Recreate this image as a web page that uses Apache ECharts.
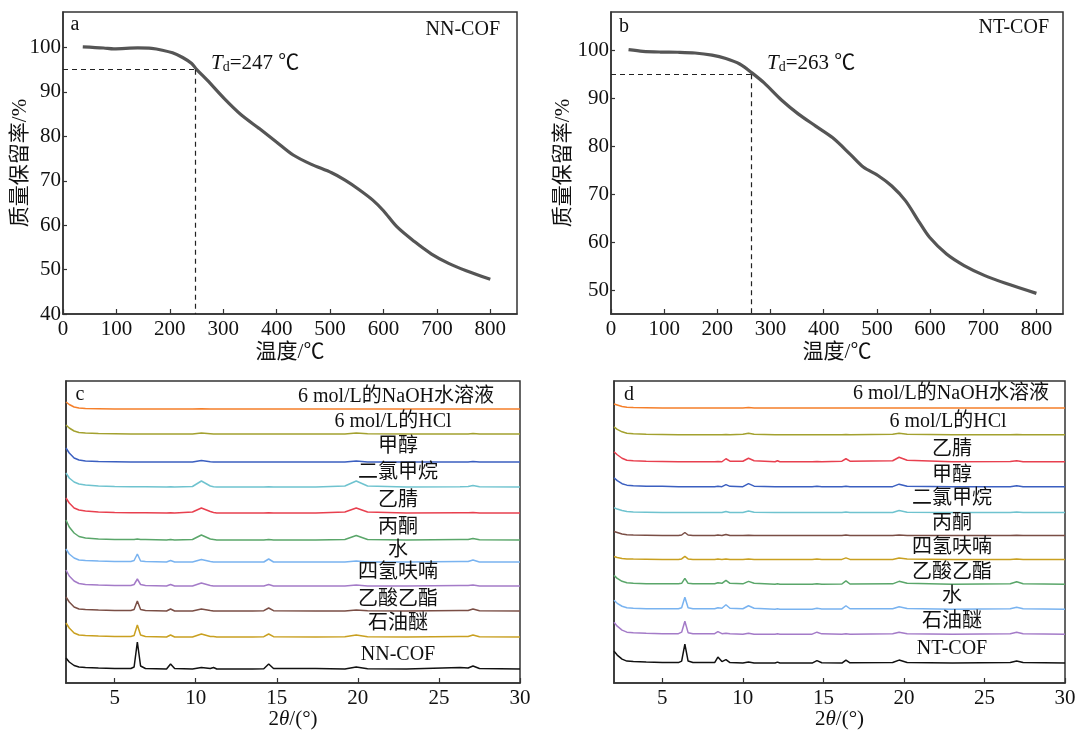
<!DOCTYPE html>
<html>
<head>
<meta charset="utf-8">
<script src="https://cdn.jsdelivr.net/npm/echarts@6/dist/echarts.min.js"></script>
<style>
  html, body { margin: 0; padding: 0; background: #fff; }
  #chart { width: 1083px; height: 731px; }
</style>
</head>
<body>
<div id="chart"></div>
<script>
// ---- TGA data (panel a: NN-COF, panel b: NT-COF) ----
const tempA = [37, 76, 95, 140, 166, 186, 205, 224, 241, 250, 270, 302, 334, 367, 399, 431, 464, 503, 528, 554, 580, 600, 625, 658, 690, 722, 755, 800]
const massA = [100.15, 99.9, 99.7, 99.9, 99.8, 99.4, 98.8, 97.75, 96.4, 95.1, 92.65, 88.5, 84.8, 81.8, 78.8, 75.8, 73.75, 71.8, 70.15, 68.05, 65.65, 63.25, 59.65, 56.3, 53.5, 51.4, 49.75, 47.8]
const tempB = [33, 60, 93, 125, 158, 190, 216, 242, 265, 288, 320, 352, 385, 417, 450, 475, 502, 528, 554, 580, 599, 631, 664, 703, 742, 800]
const massB = [100.15, 99.8, 99.65, 99.6, 99.45, 99.0, 98.3, 97.15, 95.3, 93.2, 89.7, 86.75, 84.2, 81.75, 78.3, 75.6, 73.9, 71.7, 68.6, 64.1, 61.0, 57.5, 55.1, 53.0, 51.4, 49.3]
const tdA = 247, tdB = 263, tdLevel = 95
const ticksA = [40, 50, 60, 70, 80, 90, 100]
const ticksB = [50, 60, 70, 80, 90, 100]
const ticksT = [0, 100, 200, 300, 400, 500, 600, 700, 800]

// ---- XRD data (panel c: NN-COF, panel d: NT-COF), intensity above each stacked baseline ----
const namesC = ['6 mol/L的NaOH水溶液', '6 mol/L的HCl', '甲醇', '二氯甲烷', '乙腈', '丙酮', '水', '四氢呋喃', '乙酸乙酯', '石油醚', 'NN-COF']
const baseC = [274, 249, 221, 196, 170, 143, 121, 97, 72, 46, 14]
const xC = [2, 2.2, 2.5, 2.8, 3.2, 4, 5, 6, 6.2, 6.4, 6.6, 6.9, 8.2, 8.45, 8.7, 9.8, 10.35, 10.9, 11.1, 11.3, 13.5, 14.2, 14.5, 14.8, 17.4, 19.2, 19.9, 20.6, 23, 26.3, 26.8, 27.1, 27.5, 30]
const yC = [
  [7, 4.5, 2, 1, 0.5, 0.3, 0, 0, 0, 0, 0, 0, 0, 0, 0, 0, 0.3, 0, 0, 0, 0, 0, 0, 0, 0, 0, 0, 0, 0, 0, 0, 0, 0, 0],
  [9, 6, 3, 1.5, 1, 0.5, 0.3, 0, 0, 0, 0, 0, 0, 0, 0, 0, 1, 0.3, 0, 0, 0, 0, 0, 0, 0, 0, 1, 0.3, 0, 0, 0, 0.5, 0, 0],
  [14, 9, 4, 2, 1, 0.5, 0.3, 0, 0, 0, 0, 0, 0, 0, 0, 0, 1.5, 0.3, 0, 0, 0, 0, 0, 0, 0, 0, 1, 0, 0, 0, 0, 0.5, 0, 0],
  [14, 9, 5, 3, 2, 1, 0.5, 0.3, 0.3, 0.3, 0.3, 0.3, 0, 0.3, 0, 0.5, 6, 1, 0.3, 0, 0, 0, 0.3, 0, 0, 1, 6, 1, 0, 0.3, 0.5, 1.5, 0.3, 0],
  [15, 10, 5, 3, 2, 1, 0.5, 0.3, 0.3, 0.3, 0.3, 0.3, 0, 0.3, 0, 1, 5, 1.5, 0.5, 0, 0, 0, 0.3, 0, 0, 1, 5, 1, 0, 0.3, 0.3, 0.5, 0, 0],
  [20, 13, 7, 3.5, 2, 1, 0.5, 0.5, 0.5, 1, 0.5, 0.5, 0, 0.5, 0, 0.5, 5, 1, 0.5, 0, 0, 0, 0.5, 0, 0, 0.5, 4.5, 0.5, 0, 0.5, 0.5, 1.5, 0.3, 0],
  [13, 8, 4, 2, 1.5, 1, 0.5, 0.5, 1.5, 8, 1, 0.5, 0, 1.5, 0, 0, 2.5, 0.5, 0, 0, 0, 0, 3, 0, 0, 0, 1, 0, 0, 0.5, 0.5, 2, 0, 0],
  [16, 10, 5, 2.5, 1.5, 1, 0.5, 0.5, 1.5, 7, 1.5, 0.5, 0, 1.5, 0, 0, 3, 0.5, 0, 0, 0, 0, 1.5, 0, 0, 0, 1, 0, 0, 0.5, 0.5, 1, 0, 0],
  [14, 9, 4, 2, 1.5, 1, 0.5, 0.5, 1.5, 10, 1.5, 0.5, 0, 2, 0, 0, 2, 0.5, 0, 0, 0, 0.3, 3, 0.3, 0, 0, 1, 0.3, 0, 0.5, 0.5, 2, 0.3, 0],
  [14, 9, 4, 2, 1.5, 1, 0.5, 0.5, 1.5, 12, 2, 0.5, 0, 2, 0, 0, 3, 0.5, 0.5, 0, 0, 0.3, 3, 0.3, 0, 0.3, 2, 0.3, 0, 0.5, 0.5, 2, 0.3, 0],
  [11, 7, 3.5, 2, 1.5, 1, 0.5, 0.5, 2, 27, 3, 0.5, 0, 5, 0.5, 0, 1.5, 0.5, 1.5, 0, 0, 0.3, 5, 0.5, 0.5, 0, 2, 0.3, 0, 1.5, 1, 3, 0.5, 0]
]
const colorsC = ['#f57f2a', '#a3a12f', '#3b5fc0', '#6fc3cf', '#e8404f', '#5aa66a', '#79b3f0', '#a47bc8', '#7a4e45', '#c9a020', '#111111']

const namesD = ['6 mol/L的NaOH水溶液', '6 mol/L的HCl', '乙腈', '甲醇', '二氯甲烷', '丙酮', '四氢呋喃', '乙酸乙酯', '水', '石油醚', 'NT-COF']
const baseD = [276, 249, 222, 197, 171, 148, 124, 99, 74, 49, 20]
const xD = [2, 2.2, 2.5, 2.8, 3.2, 4, 5, 6, 6.2, 6.4, 6.6, 6.9, 8.25, 8.45, 8.7, 8.95, 9.2, 10.0, 10.35, 10.7, 12.0, 12.15, 12.3, 14.3, 14.6, 14.9, 16.15, 16.4, 16.65, 19.3, 19.7, 20.2, 23, 26.6, 27.0, 27.4, 30]
const yD = [
  [4, 3, 1.5, 0.7, 0.3, 0.2, 0, 0, 0, 0, 0, 0, 0, 0, 0, 0, 0, 0, 0.3, 0, 0, 0, 0, 0, 0, 0, 0, 0, 0, 0, 0, 0, 0, 0, 0, 0, 0],
  [8, 5.5, 3, 1.5, 1, 0.5, 0.3, 0, 0, 0, 0, 0, 0, 0, 0, 0.3, 0, 0.5, 1.5, 0.5, 0, 0, 0, 0, 0, 0, 0, 0.3, 0, 0.5, 1.5, 0.5, 0, 0, 0.3, 0, 0],
  [10, 7, 3.5, 1.5, 1, 0.5, 0.3, 0, 0, 0, 0, 0, 0, 0.3, 0, 3, 0.5, 0.5, 3.5, 1, 0, 1, 0, 0, 0.3, 0, 0.5, 3, 0.5, 1, 4.5, 1.5, 0, 0.3, 1, 0, 0],
  [9, 6, 3, 1.5, 1, 0.5, 0.3, 0, 0, 0, 0, 0, 0, 0.3, 0, 2, 0.3, 0, 3, 0.5, 0, 0, 0, 0, 0.3, 0, 0, 0.5, 0, 0, 2.5, 0.5, 0, 0, 1, 0, 0],
  [5, 3.5, 2, 1, 0.5, 0.3, 0, 0, 0, 0, 0, 0, 0, 0, 0, 1, 0, 0, 1.5, 0.3, 0, 0, 0, 0, 0, 0, 0, 0.5, 0, 0, 2, 0.3, 0, 0, 0.5, 0, 0],
  [4, 3, 1.5, 0.8, 0.5, 0.3, 0, 0, 0.5, 3, 0.5, 0, 0, 0.5, 0, 1, 0, 0, 0.3, 0, 0, 0, 0, 0, 0, 0, 0, 0.5, 0, 0, 0.5, 0, 0, 0, 0.3, 0, 0],
  [3, 2, 1, 0.5, 0.3, 0.2, 0, 0, 0.5, 3, 0.5, 0, 0, 0.3, 0, 0.5, 0, 0, 0.3, 0, 0, 0, 0, 0, 0.3, 0, 0, 1.5, 0, 0, 1.5, 0.3, 0, 0, 0.5, 0, 0],
  [9, 6, 3, 1.5, 1, 0.5, 0.5, 0.5, 1, 6, 1, 0.5, 0.5, 1.5, 1, 4, 1, 0.5, 3, 1, 0, 0.5, 0, 0, 0.5, 0, 0.3, 3.5, 0.3, 0.5, 3, 1, 0, 0.5, 2.5, 0.5, 0],
  [9, 6, 3, 1.5, 1, 0.5, 0.5, 0.5, 1.5, 12, 1.5, 0.5, 0.5, 1.5, 1, 4.5, 1, 0.5, 3.5, 1, 0, 0.5, 0, 0, 1, 0.3, 0.3, 3.5, 0.5, 0.5, 2.5, 0.8, 0, 0.5, 2, 0.5, 0],
  [12, 8, 4, 2, 1.5, 1, 0.5, 0.5, 2, 13, 1.5, 0.5, 0.5, 2.5, 0.5, 1, 0.3, 0, 1, 0, 0, 0.3, 0, 0, 2, 0.3, 0, 0.5, 0, 0.5, 2, 0.5, 0, 0.5, 2, 0.5, 0],
  [12, 8, 4, 2, 1.5, 1, 0.5, 0.5, 2, 19, 2, 0.5, 0.5, 6, 1.5, 3.5, 0.5, 0, 1, 0, 0, 1, 0, 0, 2.5, 0.3, 0, 3, 0.3, 0.5, 3, 0.5, 0, 0.5, 2, 0.5, 0]
]
const colorsD = ['#f57f2a', '#a3a12f', '#e8404f', '#3b5fc0', '#6fc3cf', '#7a4e45', '#c9a020', '#5aa66a', '#79b3f0', '#a47bc8', '#111111']
const ticks2t = [5, 10, 15, 20, 25, 30]

// label placement (pixels)
const labelYC = [397, 422, 447, 473, 501, 528, 551, 573, 600, 624, 655]
const labelXC = [396, 393, 398, 398, 398, 398, 398, 398, 398, 398, 398]
const labelYD = [394, 422, 450, 476, 499, 524, 548, 573, 597, 622, 649]
const labelXD = [951, 948, 952, 952, 952, 952, 952, 952, 952, 952, 952]

const FONT = '"Liberation Serif", "Noto Sans CJK SC", serif'
const NUM = 21
const axisColor = '#333'
const chart = echarts.init(document.getElementById('chart'))

function valueX(grid, min, max, ticks, name, nameGap) {
  return {
    type: 'value', gridIndex: grid, min, max,
    name, nameLocation: 'middle', nameGap, nameMoveOverlap: false,
    nameTextStyle: { fontFamily: FONT, fontSize: 21, color: '#111', rich: { i: { fontStyle: 'italic', fontFamily: FONT, fontSize: 21 } } },
    axisLine: { show: true, lineStyle: { color: axisColor, width: 1.5 } },
    axisTick: { show: true, inside: true, length: 5, customValues: ticks, lineStyle: { color: axisColor, width: 1.2 } },
    axisLabel: { customValues: ticks, color: '#111', fontFamily: FONT, fontSize: NUM, margin: 5 },
    splitLine: { show: false }
  }
}

const grids = [
  { left: 63, right: 566, top: 12, bottom: 417 },
  { left: 611, right: 20, top: 12, bottom: 417 },
  { left: 66, right: 563, top: 381, bottom: 48 },
  { left: 614, right: 18, top: 381, bottom: 47 }
].map(g => Object.assign({ show: true, borderColor: axisColor, borderWidth: 1.5, backgroundColor: 'transparent' }, g))

const xAxes = [
  valueX(0, 0, 850, ticksT, '温度/℃', 28),
  valueX(1, 0, 850, ticksT, '温度/℃', 28),
  valueX(2, 2, 30, ticks2t, '2{i|θ}/(°)', 26),
  valueX(3, 2, 30, ticks2t, '2{i|θ}/(°)', 26)
]

function tgaY(grid, min, ticks, nameGap) {
  return {
    type: 'value', gridIndex: grid, min, max: 108,
    name: '质量保留率/%', nameLocation: 'middle', nameGap, nameMoveOverlap: false,
    nameTextStyle: { fontFamily: FONT, fontSize: 21, color: '#111' },
    axisLine: { show: true, lineStyle: { color: axisColor, width: 1.5 } },
    axisTick: { show: true, inside: true, length: 4, customValues: ticks, lineStyle: { color: axisColor, width: 1.2 } },
    axisLabel: { customValues: ticks, color: '#111', fontFamily: FONT, fontSize: NUM, margin: 2 },
    splitLine: { show: false }
  }
}
function xrdY(grid, max) {
  return {
    type: 'value', gridIndex: grid, min: 0, max,
    axisLine: { show: true, lineStyle: { color: axisColor, width: 1.5 } },
    axisTick: { show: false }, axisLabel: { show: false }, splitLine: { show: false }
  }
}
const yAxes = [tgaY(0, 40, ticksA, 32), tgaY(1, 45, ticksB, 37), xrdY(2, 302), xrdY(3, 303)]

function tdMark(td, bottom) {
  return {
    silent: true, symbol: 'none', label: { show: false },
    lineStyle: { type: [5, 4], color: '#222', width: 1.2 },
    data: [
      [{ coord: [0, tdLevel] }, { coord: [td, tdLevel] }],
      [{ coord: [td, tdLevel] }, { coord: [td, bottom] }]
    ]
  }
}

const series = [
  { type: 'line', xAxisIndex: 0, yAxisIndex: 0, data: tempA.map((t, i) => [t, massA[i]]), showSymbol: false, smooth: 0.3,
    lineStyle: { color: '#555', width: 3.2 }, markLine: tdMark(tdA, 40), z: 3 },
  { type: 'line', xAxisIndex: 1, yAxisIndex: 1, data: tempB.map((t, i) => [t, massB[i]]), showSymbol: false, smooth: 0.3,
    lineStyle: { color: '#555', width: 3.2 }, markLine: tdMark(tdB, 45), z: 3 }
]
namesC.forEach((n, k) => series.push({
  type: 'line', name: n, xAxisIndex: 2, yAxisIndex: 2, showSymbol: false,
  data: xC.map((x, i) => [x, baseC[k] + yC[k][i]]), lineStyle: { color: colorsC[k], width: 1.5 }
}))
namesD.forEach((n, k) => series.push({
  type: 'line', name: n, xAxisIndex: 3, yAxisIndex: 3, showSymbol: false,
  data: xD.map((x, i) => [x, baseD[k] + yD[k][i]]), lineStyle: { color: colorsD[k], width: 1.5 }
}))

function txt(text, x, y, align, size) {
  return { type: 'text', silent: true, z: 10, style: { text, x, y, textAlign: align || 'center', textVerticalAlign: 'middle', fill: '#111', font: (size || 20) + 'px ' + FONT } }
}
function tdText(td, x, y) {
  return { type: 'text', silent: true, z: 10, style: {
    text: '{i|T}{s|d}{n|=' + td + ' ℃}', x, y, textAlign: 'left', textVerticalAlign: 'middle', fill: '#111',
    rich: { i: { fontStyle: 'italic', fontSize: 21, fontFamily: FONT }, s: { fontSize: 14, fontFamily: FONT, verticalAlign: 'bottom', padding: [8, 0, 0, 0] }, n: { fontSize: 21, fontFamily: FONT } }
  } }
}

const graphics = [
  txt('a', 75, 25), txt('NN-COF', 500, 30, 'right'), tdText(tdA, 211, 63),
  txt('b', 624, 27), txt('NT-COF', 1049, 28, 'right'), tdText(tdB, 767, 63),
  txt('c', 80, 395), txt('d', 629, 395)
]
namesC.forEach((n, k) => graphics.push(txt(n, labelXC[k], labelYC[k])))
namesD.forEach((n, k) => graphics.push(txt(n, labelXD[k], labelYD[k])))

chart.setOption({
  animation: false,
  backgroundColor: '#fff',
  grid: grids,
  xAxis: xAxes,
  yAxis: yAxes,
  series,
  graphic: graphics
})
</script>
</body>
</html>
